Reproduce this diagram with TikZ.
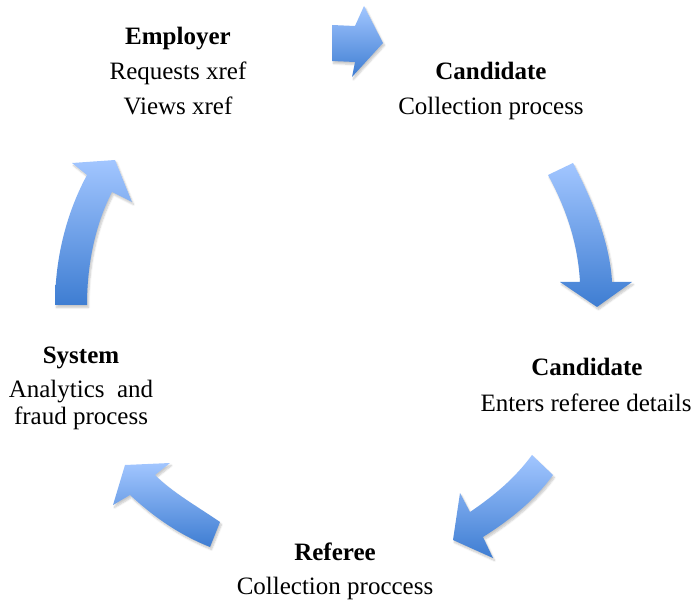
\documentclass[tikz,border=0pt]{standalone}
\usepackage{fontspec}
\setmainfont{Liberation Serif}
\usetikzlibrary{shadows.blur}
\definecolor{arlight}{RGB}{162,198,255}
\definecolor{ardark}{RGB}{62,125,210}
\tikzset{
  cyclearrow/.style={top color=arlight, bottom color=ardark,
    blur shadow={shadow xshift=1.5pt, shadow yshift=-2.5pt, shadow opacity=22, shadow blur steps=6}},
  lbl/.style={anchor=base, inner sep=0pt, font=\fontsize{25}{29}\selectfont},
  ttl/.style={lbl, font=\fontsize{25}{29}\selectfont\bfseries}
}
\begin{document}
\begin{tikzpicture}[x=1pt,y=-1pt]
\useasboundingbox (0,0) rectangle (699,601);
% arrow 1 (top, to the right)
\shade[cyclearrow] (332,25) -- (355,26) -- (364,6) -- (383,43) -- (352,77) -- (355,62) -- (332,61) -- cycle;
% arrow 2 (right, curving down)
\shade[cyclearrow] (548,175) -- (573,163) .. controls (595,205) and (610,245) .. (612,282)
  -- (632,282) -- (597,307) -- (560,282) -- (580,282)
  .. controls (578,245) and (567,210) .. (548,175) -- cycle;
% arrow 3 (bottom right, down-left)
\shade[cyclearrow] (532,455) .. controls (515,478) and (495,495) .. (470,512)
  -- (460,493) -- (453,540) -- (493,558) -- (483,537)
  .. controls (510,520) and (535,500) .. (553,475) -- cycle;
% arrow 4 (bottom left, up-left)
\shade[cyclearrow] (220,522) .. controls (195,505) and (172,492) .. (155,475)
  -- (170,463) -- (125,465) -- (113,505) -- (130,495)
  .. controls (155,518) and (180,535) .. (210,547) -- cycle;
% arrow 5 (left, up)
\shade[cyclearrow] (55,305) .. controls (55,255) and (68,210) .. (87,175)
  -- (72,163) -- (115,160) -- (132,202) -- (112,192)
  .. controls (95,225) and (87,265) .. (87,305) -- cycle;
% texts
\node[ttl] (emp) at (178,45) {Employer};
\node[lbl] (emp1) at (178,80) {Requests xref};
\node[lbl] (emp2) at (178,115) {Views xref};
\node[ttl] (cand) at (491,80) {Candidate};
\node[lbl] (cand1) at (491,115) {Collection process};
\node[ttl] (cand2) at (587,376) {Candidate};
\node[lbl] (cand3) at (586,412) {Enters referee details};
\node[ttl] (sys) at (81,364) {System};
\node[lbl] (sys1) at (81,398) {Analytics~ and};
\node[lbl] (sys2) at (81,425) {fraud process};
\node[ttl] (ref) at (335,560) {Referee};
\node[lbl] (ref1) at (335,594) {Collection proccess};
\end{tikzpicture}
\end{document}
